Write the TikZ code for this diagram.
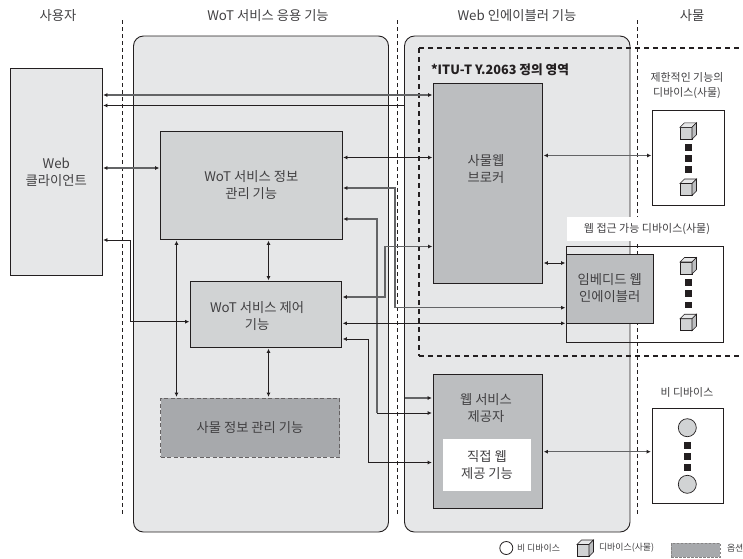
\documentclass[tikz,border=0pt]{standalone}
\usepackage{fontspec}
\setmainfont{Noto Sans CJK KR}
\usetikzlibrary{arrows.meta}
\definecolor{contfill}{HTML}{E6E7E8}
\definecolor{lightfill}{HTML}{D1D3D4}
\definecolor{midfill}{HTML}{BCBEC0}
\definecolor{darkfill}{HTML}{A7A9AC}
\definecolor{ink}{HTML}{231F20}
\definecolor{txt}{HTML}{414042}
\definecolor{grayline}{HTML}{636466}
\tikzset{
  x=1pt,y=-1pt,
  every node/.style={inner sep=0pt,outer sep=0pt,text=txt,align=center},
  fs/.style={font=\fontsize{#1}{17}\selectfont},
  container/.style={draw=ink,line width=0.9pt,fill=contfill,rounded corners=10pt},
  clientbox/.style={draw=ink,line width=0.9pt,fill=contfill,fs=13.3},
  lightbox/.style={draw=ink,line width=0.9pt,fill=lightfill,fs=13.3},
  midbox/.style={draw=ink,line width=0.9pt,fill=midfill,fs=13.3},
  optbox/.style={draw=ink!70,line width=0.9pt,dashed,dash pattern=on 4pt off 2.5pt,fill=darkfill,fs=13.3},
  devbox/.style={draw=ink,line width=0.9pt},
  sep/.style={draw=ink,line width=0.6pt,dash pattern=on 3.5pt off 3.5pt},
  zone/.style={draw=ink,line width=2pt,dash pattern=on 5pt off 4pt},
  tip/.tip={Latex[length=4.2pt,width=4pt,color=ink,fill=ink]},
  conn/.style={draw=ink,line width=0.8pt,tip-tip,shorten <=1.2pt,shorten >=1.2pt},
  connr/.style={draw=ink,line width=0.8pt,-tip,shorten >=1.2pt},
  connl/.style={draw=ink,line width=0.8pt,tip-,shorten <=1.2pt},
  gc/.style={draw=grayline,line width=1.1pt},
  devcube/.pic={
    \fill[lightfill,draw=ink,line width=0.6pt] (0,0) -- (12,0) -- (12,-12) -- (0,-12) -- cycle;
    \fill[contfill,draw=ink,line width=0.6pt] (0,-12) -- (4.5,-16.5) -- (16.5,-16.5) -- (12,-12) -- cycle;
    \fill[midfill,draw=ink,line width=0.6pt] (12,0) -- (16.5,-4.5) -- (16.5,-16.5) -- (12,-12) -- cycle;
  },
  dotblock/.style={fill=ink,draw=none,minimum size=6.6pt},
  devdot/.style={circle,draw=ink,line width=0.7pt,fill=lightfill,minimum size=18pt},
}
\begin{document}
\begin{tikzpicture}
\useasboundingbox (0,0) rectangle (743,558);
% containers
\node[container,minimum width=255pt,minimum height=496pt] (app) at (261,284) {};
\node[container,minimum width=225.5pt,minimum height=496pt] (enab) at (517.25,284) {};
% separators
\coordinate (s1t) at (122,20); \coordinate (s1b) at (122,515);
\coordinate (s2t) at (397.5,20); \coordinate (s2b) at (397.5,515);
\coordinate (s3t) at (637.5,20); \coordinate (s3b) at (637.5,515);
\draw[sep] (s1t) -- (s1b);
\draw[sep] (s2t) -- (s2b);
\draw[sep] (s3t) -- (s3b);
% zone
\coordinate (z1) at (743,48); \coordinate (z2) at (419,48); \coordinate (z3) at (419,355.5); \coordinate (z4) at (743,355.5);
\draw[zone] (z2) -- (z1);
\draw[zone] (z2) -- (z3);
\draw[zone] (z3) -- (z4);
% white label
\node[fill=white,minimum width=163pt,minimum height=24pt] (acclabelbg) at (648.5,229) {};
\node[fs=11] (acclabel) at (647,229) {웹 접근 가능 디바이스(사물)};
% headers
\node[fs=13.3] (h1) at (58,16) {사용자};
\node[fs=13.3] (h2) at (268,16) {WoT 서비스 응용 기능};
\node[fs=13.3] (h3) at (517,16) {Web 인에이블러 기능};
\node[fs=13.3] (h4) at (692,16) {사물};
% device boxes
\node[devbox,fill=white,minimum width=72pt,minimum height=94.5pt] (limdev) at (688.5,157.75) {};
\node[devbox,minimum width=156.5pt,minimum height=96pt] (accdev) at (644.75,294) {};
\node[devbox,fill=white,minimum width=71pt,minimum height=95pt] (nondev) at (687.5,456) {};
% main boxes
\node[clientbox,minimum width=91.5pt,minimum height=206.5pt] (client) at (56.25,171.75) {Web\\클라이언트};
\node[lightbox,minimum width=181.5pt,minimum height=108pt] (info) at (251.25,185.5) {WoT 서비스 정보\\관리 기능};
\node[lightbox,minimum width=151pt,minimum height=66pt] (ctrl) at (266,314.5) {};
\node[fs=13.3] (ctrltext) at (257,316) {WoT 서비스 제어\\기능};
\node[optbox,minimum width=179pt,minimum height=59pt] (thing) at (250,427.5) {사물 정보 관리 기능};
\node[midbox,minimum width=109pt,minimum height=200pt] (broker) at (488,183.5) {};
\node[fs=13.3] (brokertext) at (486,169.5) {사물웹\\브로커};
\node[midbox,minimum width=86.5pt,minimum height=69pt] (embed) at (609.75,288.5) {임베디드 웹\\인에이블러};
\node[midbox,minimum width=109.5pt,minimum height=134pt] (prov) at (487.75,441) {};
\node[fs=13.3] (provtext) at (486,408.5) {웹 서비스\\제공자};
\node[fill=white,minimum width=88pt,minimum height=52pt,fs=13.3] (direct) at (487,465) {직접 웹\\제공 기능};
% labels
\node[font=\fontsize{12.7}{14}\selectfont\bfseries,text=ink,anchor=west] (itu) at (431,70) {*ITU-T Y.2063 정의 영역};
\node[font=\fontsize{10.9}{15}\selectfont] (limlabel) at (687,85.5) {제한적인 기능의\\디바이스(사물)};
\node[fs=10.9] (nonlabel) at (687,392) {비 디바이스};
% connectors
\draw[conn,gc] (client.east|-0,95) -- (broker.west|-0,95);
\draw[connl] (client.east|-0,105.5) -- (enab.west|-0,105.5);
\draw[conn,gc] (client.east|-0,168) -- (info.west|-0,168);
\draw[conn] (info.east|-0,157.5) -- (broker.west|-0,157.5);
\draw[conn,gc] (info.east|-0,188) -- (395,188) -- (395,307.7) -- (embed.west|-0,307.7);
\draw[connl,gc] (info.east|-0,219) -- (377,219) -- (377,413);
\draw[connr] (377,413) -- (prov.west|-0,413);
\draw[conn,gc] (ctrl.east|-0,297) -- (385,297) -- (385,246.5) -- (broker.west|-0,246.5);
\draw[conn] (ctrl.east|-0,323.3) -- (embed.west|-0,323.3);
\draw[conn] (ctrl.east|-0,339) -- (368.5,339) -- (368.5,462.5) -- (prov.west|-0,462.5);
\draw[connr,gc] (enab.west|-0,398) -- (prov.west|-0,398);
\draw[conn] (client.east|-0,240) -- (130.5,240) -- (130.5,321.7) -- (ctrl.west|-0,321.7);
\draw[conn] (info.south-|176.5,0) -- (thing.north-|176.5,0);
\draw[conn] (info.south-|268.5,0) -- (ctrl.north-|268.5,0);
\draw[conn] (ctrl.south-|268.5,0) -- (thing.north-|268.5,0);
\draw[conn,gc] (broker.east|-0,155.5) -- (limdev.west|-0,155.5);
\draw[conn] (broker.east|-0,263) -- (embed.west|-0,263);
\draw[conn,gc] (prov.east|-0,451.7) -- (nondev.west|-0,451.7);
% device contents
\pic at (680,139.3) {devcube};
\pic at (680,195.5) {devcube};
\pic at (680,274) {devcube};
\pic at (680,330.7) {devcube};
\node[devdot] (c1) at (687.3,427.7) {};
\node[devdot] (c2) at (687.3,484.3) {};
\foreach \x/\y in {688.3/147.6,688.3/158.4,688.3/169.4,688.3/282.4,688.3/293.4,688.3/305,687.6/445.4,687.6/456.5,687.6/467.5}
  \node[dotblock] at (\x,\y) {};
% legend
\node[circle,draw=ink,line width=0.8pt,minimum size=13pt] (lg1) at (506.3,548) {};
\node[fs=8.9,anchor=west] (lg1t) at (517,548) {비 디바이스};
\pic at (577,556.5) {devcube};
\node[fs=8.9,anchor=west] (lg2t) at (599,548) {디바이스(사물)};
\node[draw=ink!55,fill=darkfill,line width=0.7pt,dash pattern=on 2.5pt off 1.5pt,minimum width=49pt,minimum height=14pt] (lg3) at (695.5,550) {};
\node[fs=8.9,anchor=west] (lg3t) at (727,548) {옵션};
\end{tikzpicture}
\end{document}
